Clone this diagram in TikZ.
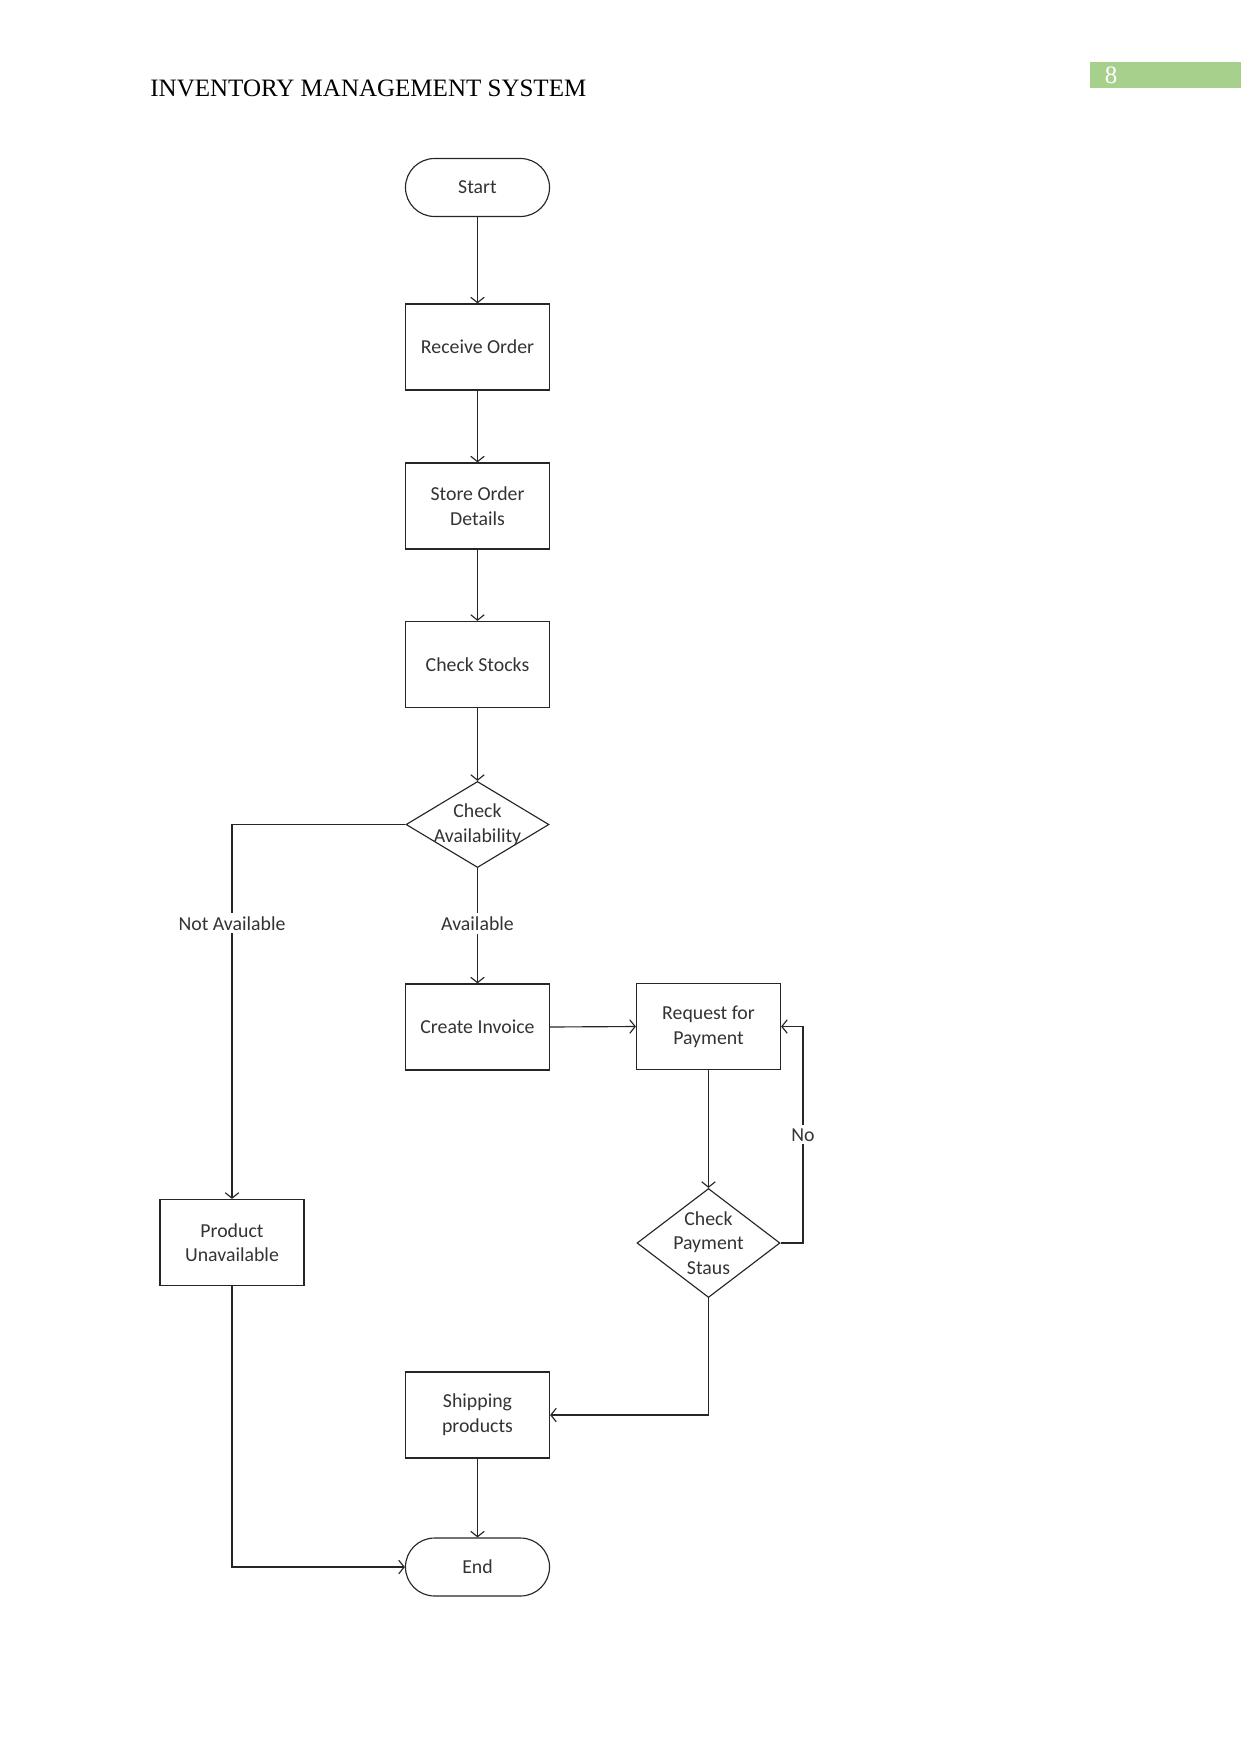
\documentclass[tikz,border=0pt]{standalone}
\usepackage{fontspec}
\setmainfont{Liberation Serif}
\newfontfamily\flowfont{Carlito}
\usetikzlibrary{arrows.meta,shapes.geometric}
\definecolor{pagegreen}{HTML}{A8D08D}
\definecolor{inkgray}{HTML}{333333}
\tikzset{
  every node/.style={text=inkgray},
  ln/.style={draw=black!85, line width=0.55pt},
  arr/.style={ln, -{Straight Barb[length=2.6pt,width=6.5pt]}},
  flow/.style={font=\flowfont\fontsize{9.5}{11.8}\selectfont, align=center},
  procbox/.style={flow, ln, rectangle, minimum width=69.1pt, minimum height=41.3pt, inner sep=0pt},
  termbox/.style={flow, ln, rectangle, rounded corners=13.9pt, minimum width=69.1pt, minimum height=27.8pt, inner sep=0pt},
  decbox/.style={ln, diamond, inner sep=0pt, minimum width=68.6pt},
  lab/.style={flow, fill=white, inner sep=1.5pt},
}
\begin{document}
\begin{tikzpicture}[x=0.4797pt,y=-0.4797pt]
\useasboundingbox (0,0) rectangle (1241,1754);
% header
\node[anchor=base west, inner sep=0pt, font=\fontsize{12}{14}\selectfont, text=black] (title) at (150,97) {INVENTORY MANAGEMENT SYSTEM};
\fill[pagegreen] (1090,62) rectangle (1241,88);
\node[anchor=center, inner sep=0pt, font=\fontsize{12}{14}\selectfont, text=white] (pnum) at (1111,75) {8};
% nodes
\node[termbox] (start) at (477.5,187.5) {Start};
\node[procbox] (receive) at (477.5,347) {Receive Order};
\node[procbox] (store) at (477.5,506) {Store Order\\Details};
\node[procbox] (stocks) at (477.5,664.5) {Check Stocks};
\node[decbox, minimum height=41.3pt, label={[flow]center:Check\\Availability}] (avail) at (477.5,824.5) {};
\node[procbox] (invoice) at (477.5,1027) {Create Invoice};
\node[procbox] (request) at (708.5,1026.5) {Request for\\Payment};
\node[decbox, minimum height=52.3pt, label={[flow]center:Check\\Payment\\Staus}] (pay) at (708.5,1243) {};
\node[procbox] (unavail) at (232,1242.5) {Product\\Unavailable};
\node[procbox] (ship) at (477.5,1415) {Shipping\\products};
\node[termbox] (end) at (477.5,1567) {End};
% connectors
\draw[arr] (start) -- (receive);
\draw[arr] (receive) -- (store);
\draw[arr] (store) -- (stocks);
\draw[arr] (stocks) -- (avail);
\draw[arr] (avail.west) -| node[lab, pos=0.632] (nalab) {Not Available} (unavail.north);
\draw[arr] (avail.south) -- node[lab, pos=0.48] (alab) {Available} (invoice.north);
\draw[arr] (invoice.east) -- (request.west);
\draw[arr] (request.south) -- (pay.north);
\coordinate (fb) at (803,1243);
\draw[arr] (pay.east) -- (fb) |- node[lab, pos=0.25] (nolab) {No} (request.east);
\draw[arr] (pay.south) |- (ship.east);
\draw[arr] (ship) -- (end);
\draw[arr] (unavail.south) |- (end.west);
\end{tikzpicture}
\end{document}
